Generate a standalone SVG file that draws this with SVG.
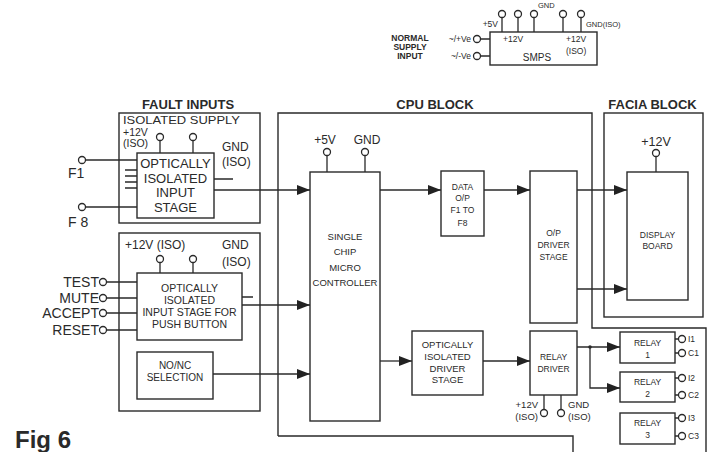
<svg xmlns="http://www.w3.org/2000/svg" width="708" height="452" viewBox="0 0 708 452">
<defs>
<marker id="arr" markerUnits="userSpaceOnUse" markerWidth="13" markerHeight="10" refX="13" refY="5" orient="auto">
<path d="M0,0 L13,5 L0,10 z" fill="#222"/>
</marker>
<style>
.b{fill:none;stroke:#2a2a2a;stroke-width:1.4}
.l{fill:none;stroke:#2a2a2a;stroke-width:1.3}
.c{fill:#fff;stroke:#2a2a2a;stroke-width:1.3}
text{font-family:"Liberation Sans",Arial,sans-serif;fill:#2a2a2a}
.t{font-size:13px;font-weight:bold}
.m{text-anchor:middle}
.e{text-anchor:end}
.s12{font-size:12px}
.s11{font-size:10.5px}
.s13{font-size:13px}
.s14{font-size:14px}
.s10{font-size:10.5px}
.s9{font-size:9.5px}
.s8{font-size:8.5px}
.s7{font-size:7.5px}
</style>
</defs>
<rect width="708" height="452" fill="#fff"/>

<g id="smps">
<rect class="b" x="490" y="32" width="107" height="33"/>
<path class="l" d="M502,17.5V32M518,17.5V32M534,17.5V32M563,17.5V32M581,17.5V32M480.5,39H490M480.5,56H490"/>
<circle class="c" cx="502" cy="14" r="3.5"/><circle class="c" cx="518" cy="14" r="3.5"/><circle class="c" cx="534" cy="14" r="3.5"/><circle class="c" cx="563" cy="14" r="3.5"/><circle class="c" cx="581" cy="14" r="3.5"/>
<circle class="c" cx="477" cy="39" r="3.5"/><circle class="c" cx="477" cy="56" r="3.5"/>
<text class="s8 e" x="498" y="27">+5V</text>
<text class="s7" x="538" y="8">GND</text>
<text class="s7" x="586" y="27">GND(ISO)</text>
<text class="s8" x="503" y="42">+12V</text>
<text class="s8" x="566" y="42">+12V</text>
<text class="s8" x="566" y="54">(ISO)</text>
<text class="m" style="font-size:10px" x="537" y="61">SMPS</text>
<text class="s8 e" x="471" y="42">~/+Ve</text>
<text class="s8 e" x="471" y="59">~/-Ve</text>
<text class="m" style="font-size:8.5px;font-weight:bold" x="410" y="41">NORMAL</text>
<text class="m" style="font-size:8.5px;font-weight:bold" x="410" y="50">SUPPLY</text>
<text class="m" style="font-size:8.5px;font-weight:bold" x="410" y="59">INPUT</text>
</g>

<g id="fault-inputs">
<text class="t m" x="188" y="109">FAULT INPUTS</text>
<rect class="b" x="119" y="113" width="141" height="110"/>
<text class="s11" x="123" y="124" textLength="117" lengthAdjust="spacingAndGlyphs">ISOLATED SUPPLY</text>
<text class="s11" x="123" y="135.5">+12V</text>
<text class="s11" x="123" y="147">(ISO)</text>
<text class="s12" x="222" y="151">GND</text>
<text class="s12" x="222" y="166">(ISO)</text>
<path class="l" d="M160,140.5V153M193,140.5V153M214,179H233M125,170H137M125,176H137M125,182H137M125,188H137"/>
<circle class="c" cx="160" cy="137" r="3.5"/><circle class="c" cx="193" cy="137" r="3.5"/>
<g id="opto-input">
<rect class="b" x="137" y="153" width="77" height="65"/>
<text class="s13 m" x="175.5" y="168">OPTICALLY</text>
<text class="s13 m" x="175.5" y="182.5">ISOLATED</text>
<text class="s13 m" x="175.5" y="197">INPUT</text>
<text class="s13 m" x="175.5" y="211.5">STAGE</text>
</g>
<circle class="c" cx="82" cy="160" r="3.5"/><circle class="c" cx="82" cy="207" r="3.5"/>
<text class="s14" x="68" y="178">F1</text>
<text class="s14" x="68" y="227">F 8</text>
</g>

<g id="push-buttons">
<rect class="b" x="119" y="233" width="141" height="178"/>
<text class="s12" x="125" y="249">+12V (ISO)</text>
<text class="s12" x="222" y="249">GND</text>
<text class="s12" x="222" y="266">(ISO)</text>
<path class="l" d="M160,262.5V273M193,262.5V273M242,297H253"/>
<circle class="c" cx="160" cy="259" r="3.5"/><circle class="c" cx="193" cy="259" r="3.5"/>
<g id="opto-push">
<rect class="b" x="137" y="273" width="105" height="67"/>
<text class="s10 m" x="189.5" y="292">OPTICALLY</text>
<text class="s10 m" x="189.5" y="304">ISOLATED</text>
<text class="s10 m" x="189.5" y="316">INPUT STAGE FOR</text>
<text class="s10 m" x="189.5" y="328">PUSH BUTTON</text>
</g>
<circle class="c" cx="103" cy="282" r="3.5"/><circle class="c" cx="103" cy="298" r="3.5"/><circle class="c" cx="103" cy="313" r="3.5"/><circle class="c" cx="103" cy="330" r="3.5"/>
<text class="s14 e" x="99" y="287">TEST</text>
<text class="s14 e" x="99" y="303">MUTE</text>
<text class="s14 e" x="99" y="318">ACCEPT</text>
<text class="s14 e" x="99" y="335">RESET</text>
<g id="nonc">
<rect class="b" x="137" y="352" width="76" height="47"/>
<text class="m" style="font-size:10px" x="175" y="368.5">NO/NC</text>
<text class="m" style="font-size:10px" x="175" y="380.5">SELECTION</text>
</g>
</g>

<g id="cpu-block">
<text class="t m" x="435" y="109">CPU BLOCK</text>
<path class="b" d="M278,436V113H592V328H706V452M278,436H573V452"/>
</g>

<g id="micro">
<rect class="b" x="310" y="172" width="70" height="249"/>
<path class="l" d="M327,155.5V172M365,155.5V172"/>
<circle class="c" cx="327" cy="152" r="3.5"/><circle class="c" cx="365" cy="152" r="3.5"/>
<text class="s12 m" x="325" y="144">+5V</text>
<text class="s12 m" x="367" y="144">GND</text>
<text class="s9 m" x="345" y="240">SINGLE</text>
<text class="s9 m" x="345" y="255">CHIP</text>
<text class="s9 m" x="345" y="271">MICRO</text>
<text class="s9 m" x="345" y="286">CONTROLLER</text>
</g>

<g id="data-op">
<rect class="b" x="441" y="171" width="43" height="65"/>
<text class="s8 m" x="462.5" y="190">DATA</text>
<text class="s8 m" x="462.5" y="201">O/P</text>
<text class="s8 m" x="462.5" y="213">F1 TO</text>
<text class="s8 m" x="462.5" y="226">F8</text>
</g>

<g id="op-driver">
<rect class="b" x="530" y="171" width="47" height="152"/>
<text class="s8 m" x="553.5" y="236">O/P</text>
<text class="s8 m" x="553.5" y="248">DRIVER</text>
<text class="s8 m" x="553.5" y="260">STAGE</text>
</g>

<g id="opto-driver">
<rect class="b" x="412" y="331" width="71" height="64"/>
<text class="s9 m" x="447.5" y="348">OPTICALLY</text>
<text class="s9 m" x="447.5" y="360">ISOLATED</text>
<text class="s9 m" x="447.5" y="372">DRIVER</text>
<text class="s9 m" x="447.5" y="383">STAGE</text>
</g>

<g id="relay-driver">
<rect class="b" x="530" y="331" width="47" height="64"/>
<text class="s8 m" x="553.5" y="360">RELAY</text>
<text class="s8 m" x="553.5" y="372">DRIVER</text>
<path class="l" d="M544,395V409.5M561,395V409.5"/>
<circle class="c" cx="544" cy="413" r="3.5"/><circle class="c" cx="561" cy="413" r="3.5"/>
<text class="s9 e" x="538" y="408">+12V</text>
<text class="s9 e" x="538" y="420">(ISO)</text>
<text class="s9" x="568" y="408">GND</text>
<text class="s9" x="568" y="420">(ISO)</text>
</g>

<g id="facia-block">
<text class="t m" x="652.5" y="109">FACIA BLOCK</text>
<rect class="b" x="604" y="113" width="99" height="204"/>
<text class="m" style="font-size:12.5px" x="656" y="146">+12V</text>
<path class="l" d="M656,156.5V172"/>
<circle class="c" cx="656" cy="153" r="3.5"/>
<g id="display">
<rect class="b" x="627" y="172" width="61" height="128"/>
<text class="s8 m" x="657.5" y="238">DISPLAY</text>
<text class="s8 m" x="657.5" y="249">BOARD</text>
</g>
</g>

<g id="relay1">
<rect class="b" x="620" y="332" width="55" height="31"/>
<text class="s8 m" x="647.5" y="346">RELAY</text>
<text class="s8 m" x="647.5" y="358">1</text>
<path class="l" d="M675,339H678.5M675,353H678.5"/>
<circle class="c" cx="682" cy="339" r="3.5"/><circle class="c" cx="682" cy="353" r="3.5"/>
<text class="s8" x="688" y="342">I1</text>
<text class="s8" x="688" y="356">C1</text>
</g>
<g id="relay2">
<rect class="b" x="620" y="372" width="55" height="30"/>
<text class="s8 m" x="647.5" y="385">RELAY</text>
<text class="s8 m" x="647.5" y="397">2</text>
<path class="l" d="M675,378H678.5M675,395H678.5"/>
<circle class="c" cx="682" cy="378" r="3.5"/><circle class="c" cx="682" cy="395" r="3.5"/>
<text class="s8" x="688" y="381">I2</text>
<text class="s8" x="688" y="398">C2</text>
</g>
<g id="relay3">
<rect class="b" x="620" y="413" width="55" height="31"/>
<text class="s8 m" x="647.5" y="426">RELAY</text>
<text class="s8 m" x="647.5" y="438">3</text>
<path class="l" d="M675,418H678.5M675,436H678.5"/>
<circle class="c" cx="682" cy="418" r="3.5"/><circle class="c" cx="682" cy="436" r="3.5"/>
<text class="s8" x="688" y="421">I3</text>
<text class="s8" x="688" y="439">C3</text>
</g>

<g id="connectors">
<path class="l" d="M85.5,160H137"/>
<path class="l" d="M85.5,207H137"/>
<path class="l" d="M106.5,282H137M106.5,298H137M106.5,313H137M106.5,330H137"/>
<path class="l" d="M214,190H310" marker-end="url(#arr)"/>
<path class="l" d="M242,305H310" marker-end="url(#arr)"/>
<path class="l" d="M213,374H310" marker-end="url(#arr)"/>
<path class="l" d="M380,190H441" marker-end="url(#arr)"/>
<path class="l" d="M484,190H530" marker-end="url(#arr)"/>
<path class="l" d="M380,361H412" marker-end="url(#arr)"/>
<path class="l" d="M483,361H530" marker-end="url(#arr)"/>
<path class="l" d="M577,190H627" marker-end="url(#arr)"/>
<path class="l" d="M577,289H627" marker-end="url(#arr)"/>
<path class="l" d="M577,347H620" marker-end="url(#arr)"/>
<path class="l" d="M590,347V388H620" marker-end="url(#arr)"/>
<circle cx="590" cy="347" r="1.8" fill="#2a2a2a"/>
</g>

<text x="15" y="448" style="font-size:24px;font-weight:bold">Fig 6</text>
</svg>
